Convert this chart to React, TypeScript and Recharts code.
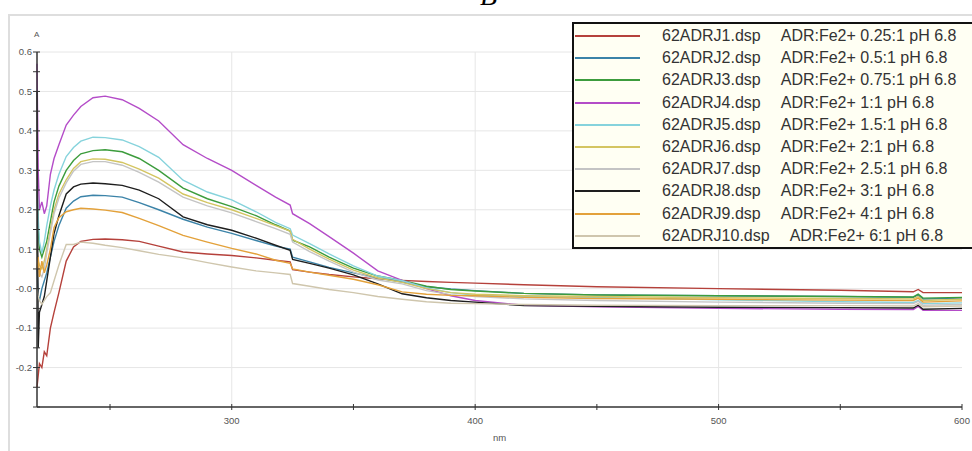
import React from 'react';
import { LineChart, Line, XAxis, YAxis, CartesianGrid, Legend } from 'recharts';

const wavelengths = [220, 220.5, 221, 222, 223, 224, 225.5, 227, 229, 232, 235, 238, 243, 248, 255, 262, 270, 280, 290, 300, 310, 318, 324, 325, 332, 340, 350, 360, 370, 380, 390, 400, 420, 450, 500, 550, 580, 582, 584, 600];

const s1 = [-0.25, -0.22, -0.19, -0.2, -0.16, -0.17, -0.1, -0.06, -0.01, 0.07, 0.106, 0.12, 0.125, 0.126, 0.124, 0.12, 0.108, 0.093, 0.088, 0.084, 0.078, 0.072, 0.068, 0.048, 0.042, 0.036, 0.03, 0.025, 0.021, 0.018, 0.016, 0.014, 0.01, 0.005, 0.0, -0.004, -0.008, -0.002, -0.01, -0.01];
const s2 = [0.05, -0.02, -0.03, 0.0, 0.02, 0.04, 0.08, 0.12, 0.16, 0.204, 0.222, 0.233, 0.237, 0.236, 0.232, 0.218, 0.2, 0.176, 0.156, 0.14, 0.122, 0.108, 0.1, 0.08, 0.068, 0.054, 0.04, 0.027, 0.017, 0.005, -0.001, -0.005, -0.012, -0.016, -0.018, -0.02, -0.022, -0.016, -0.026, -0.024];
const s3 = [0.25, 0.15, 0.1, 0.08, 0.1, 0.12, 0.17, 0.22, 0.26, 0.3, 0.325, 0.342, 0.35, 0.352, 0.347, 0.33, 0.3, 0.255, 0.228, 0.208, 0.185, 0.162, 0.146, 0.123, 0.106, 0.08, 0.052, 0.032, 0.021, 0.006, -0.002, -0.006, -0.012, -0.016, -0.018, -0.02, -0.021, -0.014, -0.024, -0.022];
const s4 = [0.57, 0.3, 0.2, 0.22, 0.19, 0.21, 0.29, 0.33, 0.365, 0.415, 0.44, 0.462, 0.484, 0.488, 0.479, 0.457, 0.425, 0.365, 0.33, 0.3, 0.262, 0.232, 0.212, 0.19, 0.165, 0.132, 0.09, 0.045, 0.021, 0.0, -0.018, -0.03, -0.042, -0.046, -0.05, -0.052, -0.053, -0.045, -0.055, -0.055];
const s5 = [0.26, 0.18, 0.12, 0.09, 0.12, 0.16, 0.21, 0.25, 0.29, 0.335, 0.358, 0.374, 0.384, 0.383, 0.377, 0.36, 0.333, 0.275, 0.245, 0.225, 0.195, 0.168, 0.152, 0.136, 0.114, 0.088, 0.058, 0.032, 0.02, 0.002, -0.01, -0.017, -0.02, -0.022, -0.028, -0.033, -0.035, -0.03, -0.038, -0.036];
const s6 = [0.1, 0.07, 0.06, 0.05, 0.07, 0.1, 0.15, 0.2, 0.24, 0.276, 0.305, 0.322, 0.329, 0.328, 0.32, 0.303, 0.28, 0.24, 0.218, 0.2, 0.178, 0.16, 0.146, 0.125, 0.1, 0.075, 0.047, 0.027, 0.016, 0.0, -0.01, -0.014, -0.018, -0.02, -0.023, -0.025, -0.026, -0.02, -0.03, -0.027];
const s7 = [0.08, 0.05, 0.04, 0.03, 0.05, 0.09, 0.14, 0.19, 0.23, 0.268, 0.298, 0.315, 0.322, 0.322, 0.313, 0.295, 0.27, 0.232, 0.21, 0.192, 0.17, 0.152, 0.138, 0.118, 0.094, 0.07, 0.042, 0.022, 0.012, -0.005, -0.015, -0.02, -0.026, -0.03, -0.034, -0.037, -0.038, -0.032, -0.042, -0.04];
const s8 = [0.5, -0.15, -0.06, -0.04, -0.02, 0.02, 0.08, 0.14, 0.185, 0.24, 0.258, 0.265, 0.268, 0.266, 0.262, 0.25, 0.228, 0.182, 0.162, 0.148, 0.128, 0.11, 0.097, 0.074, 0.064, 0.052, 0.035, 0.012, -0.013, -0.023, -0.03, -0.034, -0.043, -0.045, -0.047, -0.048, -0.049, -0.042, -0.052, -0.05];
const s9 = [0.05, 0.08, 0.03, 0.07, 0.04, 0.06, 0.1, 0.155, 0.18, 0.195, 0.2, 0.204, 0.202, 0.199, 0.193, 0.178, 0.16, 0.135, 0.118, 0.102, 0.088, 0.072, 0.064, 0.05, 0.042, 0.034, 0.024, 0.01, -0.008, -0.014, -0.017, -0.018, -0.022, -0.025, -0.027, -0.029, -0.03, -0.024, -0.034, -0.031];
const s10 = [0.0, -0.02, -0.03, -0.04, -0.03, -0.02, -0.01, 0.02, 0.06, 0.112, 0.112, 0.118, 0.115, 0.11, 0.104, 0.096, 0.087, 0.078, 0.066, 0.055, 0.045, 0.04, 0.036, 0.013, 0.006, -0.002, -0.01, -0.02, -0.027, -0.033, -0.037, -0.038, -0.04, -0.042, -0.043, -0.043, -0.044, -0.038, -0.046, -0.044];

const seriesValues = [s1, s2, s3, s4, s5, s6, s7, s8, s9, s10];
const seriesNames = ['62ADRJ1.dsp', '62ADRJ2.dsp', '62ADRJ3.dsp', '62ADRJ4.dsp', '62ADRJ5.dsp', '62ADRJ6.dsp', '62ADRJ7.dsp', '62ADRJ8.dsp', '62ADRJ9.dsp', '62ADRJ10.dsp'];
const seriesDescs = ['ADR:Fe2+ 0.25:1 pH 6.8', 'ADR:Fe2+ 0.5:1 pH 6.8', 'ADR:Fe2+ 0.75:1 pH 6.8', 'ADR:Fe2+ 1:1 pH 6.8', 'ADR:Fe2+ 1.5:1 pH 6.8', 'ADR:Fe2+ 2:1 pH 6.8', 'ADR:Fe2+ 2.5:1 pH 6.8', 'ADR:Fe2+ 3:1 pH 6.8', 'ADR:Fe2+ 4:1 pH 6.8', 'ADR:Fe2+ 6:1 pH 6.8'];
const seriesColors = ['#b5413b', '#3b83a8', '#3c9c3c', '#b44cc8', '#86d3dc', '#d4c561', '#c4c4c4', '#1e1e1e', '#e3a13a', '#cfc6ad'];

const xTicks = [250, 300, 350, 400, 450, 500, 550, 600];
const xLabeledTicks = [300, 400, 500, 600];
const xTickLabels = ['300', '400', '500', '600'];
const xGrid = [300, 400, 500];

const yTicks = [-0.3, -0.25, -0.2, -0.15, -0.1, -0.05, 0, 0.05, 0.1, 0.15, 0.2, 0.25, 0.3, 0.35, 0.4, 0.45, 0.5, 0.55, 0.6];
const yLabeledTicks = [0.6, 0.5, 0.4, 0.3, 0.2, 0.1, 0, -0.1, -0.2];
const yTickLabels = ['0.6', '0.5', '0.4', '0.3', '0.2', '0.1', '-0.0', '-0.1', '-0.2'];
const yGrid = [0.6, 0.5, 0.4, 0.3, 0.2, 0.1, 0, -0.1, -0.2];

const tableData = wavelengths.map((nm, i) => {
  const row: Record<string, number> = { nm };
  seriesValues.forEach((vals, k) => {
    row['s' + (k + 1)] = vals[i];
  });
  return row;
});

const FONT = '"Liberation Sans", Arial, sans-serif';

const findIdx = (arr: number[], v: number) => arr.findIndex((a) => Math.abs(a - v) < 1e-6);

const XTick = (props: any) => {
  const { x, y, payload } = props;
  const idx = findIdx(xLabeledTicks, payload.value);
  return (
    <g>
      <line x1={x} x2={x} y1={y - 3} y2={y + 3} stroke="#333" strokeWidth={1} />
      {idx >= 0 && (
        <text x={x} y={y + 17} textAnchor="middle" fontSize={9.5} fill="#555" fontFamily={FONT}>
          {xTickLabels[idx]}
        </text>
      )}
    </g>
  );
};

const YTick = (props: any) => {
  const { x, y, payload } = props;
  const idx = findIdx(yLabeledTicks, payload.value);
  return (
    <g>
      <line x1={x - 4} x2={x + 3} y1={y} y2={y} stroke="#333" strokeWidth={1} />
      {idx >= 0 && (
        <text x={x - 5} y={y + 3.3} textAnchor="end" fontSize={9.5} fill="#555" fontFamily={FONT}>
          {yTickLabels[idx]}
        </text>
      )}
    </g>
  );
};

const renderLegend = (props: any) => {
  const payload = [...(props.payload || [])].sort(
    (a: any, b: any) => seriesNames.indexOf(a.value) - seriesNames.indexOf(b.value)
  );
  return (
    <div
      style={{
        width: 420,
        height: 227,
        boxSizing: 'border-box',
        border: '2px solid #111',
        background: '#fffff3',
        paddingTop: 1,
        fontFamily: FONT,
        fontSize: 16,
        color: '#333',
      }}
    >
      {payload.map((entry: any) => {
        const i = seriesNames.indexOf(entry.value);
        return (
          <div key={entry.value} style={{ height: 22.2, display: 'flex', alignItems: 'center', whiteSpace: 'nowrap' }}>
            <div style={{ width: 65, height: 2, background: entry.color, marginLeft: 1 }} />
            <span style={{ marginLeft: 22 }}>{entry.value}</span>
            <span style={{ marginLeft: 20 }}>{seriesDescs[i]}</span>
          </div>
        );
      })}
    </div>
  );
};

export default function App() {
  return (
    <div
      style={{
        position: 'absolute',
        left: 0,
        top: 0,
        width: 972,
        height: 451,
        overflow: 'hidden',
        background: '#fff',
      }}
    >
      <div
        style={{
          position: 'absolute',
          left: 8,
          top: 14,
          width: 980,
          height: 460,
          border: '2px solid #dedede',
          boxSizing: 'border-box',
        }}
      />
      <div
        style={{
          position: 'absolute',
          left: 480,
          top: -19,
          fontFamily: '"Liberation Serif", "Times New Roman", serif',
          fontStyle: 'italic',
          fontSize: 28,
          lineHeight: '30px',
          color: '#000',
        }}
      >
        B
      </div>
      <div
        style={{
          position: 'absolute',
          left: 34,
          top: 30,
          fontFamily: FONT,
          fontSize: 8,
          color: '#555',
        }}
      >
        A
      </div>
      <div style={{ position: 'absolute', left: 0, top: 0 }}>
        <LineChart width={972} height={451} data={tableData} margin={{ top: 52, right: 10, bottom: 0, left: 0 }}>
          <CartesianGrid
            stroke="#e6e6e6"
            strokeWidth={1}
            horizontalValues={yGrid}
            verticalValues={xGrid}
          />
          <XAxis
            dataKey="nm"
            type="number"
            domain={[220, 600]}
            ticks={xTicks}
            interval={0}
            tickSize={0}
            tickMargin={0}
            tickLine={false}
            tick={<XTick />}
            axisLine={{ stroke: '#333', strokeWidth: 1.5 }}
            height={44}
            label={{ value: 'nm', position: 'insideBottom', offset: 10, fontSize: 9.5, fill: '#555', fontFamily: FONT }}
          />
          <YAxis
            type="number"
            domain={[-0.3, 0.6]}
            ticks={yTicks}
            interval={0}
            tickSize={0}
            tickMargin={0}
            tickLine={false}
            tick={<YTick />}
            axisLine={{ stroke: '#333', strokeWidth: 1.5 }}
            width={37}
          />
          <Legend
            content={renderLegend}
            layout="horizontal"
            verticalAlign="middle"
            align="center"
            wrapperStyle={{ left: 572, top: 22, width: 420, height: 227 }}
          />
          {seriesNames.map((name, k) => (
            <Line
              key={name}
              dataKey={'s' + (k + 1)}
              name={name}
              stroke={seriesColors[k]}
              strokeWidth={1.4}
              dot={false}
              activeDot={false}
              type="linear"
              isAnimationActive={false}
            />
          ))}
        </LineChart>
      </div>
    </div>
  );
}
